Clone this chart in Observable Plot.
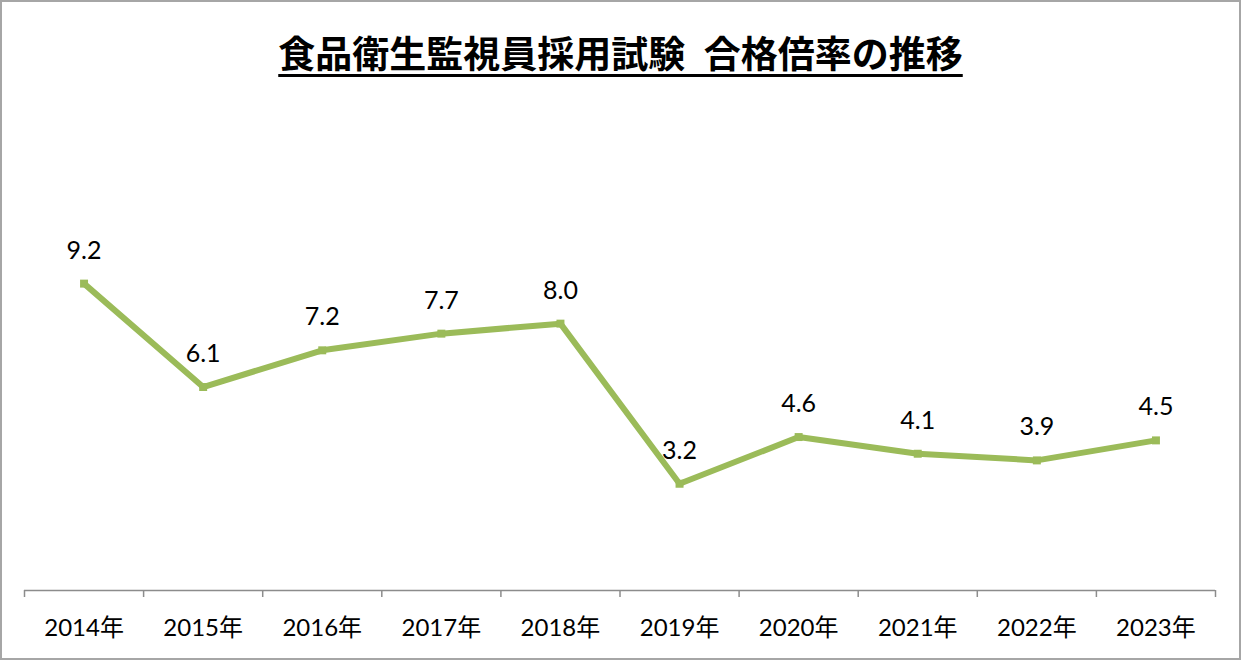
<!DOCTYPE html>
<html><head><meta charset="utf-8">
<script src="https://cdn.jsdelivr.net/npm/d3@7"></script>
<script src="https://cdn.jsdelivr.net/npm/@observablehq/plot@0.6"></script>
<style>
html,body{margin:0;padding:0;background:#fff;}
body{position:relative;width:1241px;height:660px;overflow:hidden;}
#chart{position:absolute;left:0;top:0;}
#frame{position:absolute;left:0;top:0;width:1241px;height:660px;box-sizing:border-box;border:2px solid #a6a6a6;pointer-events:none;}
#title{position:absolute;left:0;top:32px;width:1241px;text-align:center;white-space:pre;font-family:"Noto Sans CJK JP",sans-serif;font-weight:bold;font-size:37px;line-height:40px;color:#000;text-decoration:underline;text-decoration-thickness:3px;text-underline-offset:6px;}
</style>
</head><body>
<div id="chart"></div>
<div id="title">食品衛生監視員採用試験&#x2002;合格倍率の推移</div>
<div id="frame"></div>
<script>
const years = ["2014年","2015年","2016年","2017年","2018年","2019年","2020年","2021年","2022年","2023年"];
const ratios = [9.2, 6.1, 7.2, 7.7, 8.0, 3.2, 4.6, 4.1, 3.9, 4.5];

const data = years.map((y, i) => ({i: i + 0.5, year: y, v: ratios[i]}));
const bounds = d3.range(0, years.length + 1);
const font = "Lato, 'Noto Sans CJK JP', sans-serif";

const chart = Plot.plot({
  width: 1241,
  height: 660,
  marginLeft: 24,
  marginRight: 26,
  marginTop: 123,
  marginBottom: 70,
  style: {fontFamily: font, background: "transparent", color: "#000"},
  x: {type: "linear", domain: [0, years.length], axis: null},
  y: {domain: [0, 14], axis: null},
  marks: [
    Plot.ruleY([0], {stroke: "#8c8c8c", strokeWidth: 1.5}),
    Plot.axisX(bounds, {tickSize: 7, tickFormat: () => "", label: null, stroke: "#8c8c8c", strokeWidth: 1.5}),
    Plot.axisX(data.map(d => d.i), {tickSize: 0, tickPadding: 28, label: null, tickFormat: d => years[Math.floor(d)], fontSize: 24, fill: "#000"}),
    Plot.line(data, {x: "i", y: "v", stroke: "#9bbb59", strokeWidth: 6}),
    Plot.dot(data, {x: "i", y: "v", symbol: "square", r: 4.5, fill: "#9bbb59", stroke: "none"}),
    Plot.text(data, {x: "i", y: "v", text: d => d.v.toFixed(1), dy: -33, fontSize: 25, fill: "#000"})
  ]
});
document.getElementById("chart").appendChild(chart);
</script>
</body></html>
